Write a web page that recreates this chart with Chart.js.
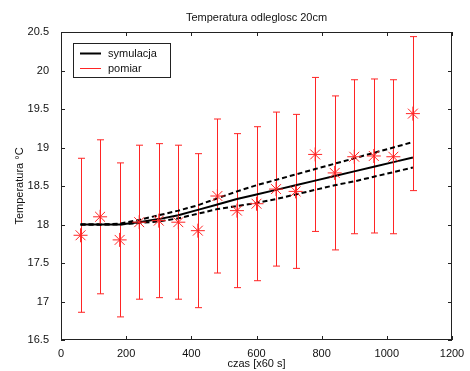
<!DOCTYPE html>
<html>
<head>
<meta charset="utf-8">
<script src="https://cdn.jsdelivr.net/npm/chart.js@4/dist/chart.umd.min.js"></script>
<style>
  html, body { margin: 0; padding: 0; background: #fff; }
  canvas { display: block; }
</style>
</head>
<body>
<canvas id="chart" width="470" height="371"></canvas>
<script>
// czas [x60 s]
const czas = [60, 120, 180, 240, 300, 360, 420, 480, 540, 600, 660, 720, 780, 840, 900, 960, 1020, 1080];
// pomiar (measurement) and its error
const pomiar = [17.86, 18.1, 17.8, 18.03, 18.05, 18.03, 17.92, 18.37, 18.18, 18.27, 18.46, 18.43, 18.91, 18.67, 18.88, 18.89, 18.88, 19.44];
const pomiarBlad = [1, 1, 1, 1, 1, 1, 1, 1, 1, 1, 1, 1, 1, 1, 1, 1, 1, 1];
// symulacja and its bounds
const symulacja = [18.0, 18.0, 18.0, 18.03, 18.07, 18.12, 18.19, 18.26, 18.33, 18.39, 18.45, 18.51, 18.57, 18.63, 18.69, 18.75, 18.81, 18.87];
const symGora = [18.0, 18.0, 18.01, 18.06, 18.12, 18.18, 18.25, 18.34, 18.43, 18.51, 18.58, 18.65, 18.72, 18.79, 18.86, 18.93, 19.0, 19.07];
const symDol = [18.0, 18.0, 18.0, 18.02, 18.04, 18.08, 18.14, 18.2, 18.24, 18.28, 18.33, 18.39, 18.45, 18.51, 18.56, 18.62, 18.68, 18.74];
const xTicks = [0, 200, 400, 600, 800, 1000, 1200];
const yTicks = [16.5, 17, 17.5, 18, 18.5, 19, 19.5, 20, 20.5];

const FONT = 'Arial, "Liberation Sans", Helvetica, sans-serif';
const RED = '#ff2424';
const pts = (ys) => czas.map((x, i) => ({ x, y: ys[i] }));

// error bars, frame, inward ticks, title, legend
const matlabLook = {
  id: 'matlabLook',
  beforeDatasetsDraw(chart) {
    const { ctx } = chart;
    const xs = chart.scales.x, ys = chart.scales.y;
    ctx.save();
    ctx.strokeStyle = RED;
    ctx.lineWidth = 1;
    czas.forEach((t, i) => {
      const px = Math.round(xs.getPixelForValue(t)) + 0.5;
      const lo = ys.getPixelForValue(pomiar[i] - pomiarBlad[i]);
      const hi = ys.getPixelForValue(pomiar[i] + pomiarBlad[i]);
      ctx.beginPath();
      ctx.moveTo(px, lo); ctx.lineTo(px, hi);
      ctx.moveTo(px - 3.5, lo); ctx.lineTo(px + 3.5, lo);
      ctx.moveTo(px - 3.5, hi); ctx.lineTo(px + 3.5, hi);
      ctx.stroke();
    });
    ctx.restore();
  },
  afterDraw(chart) {
    const { ctx, chartArea: a } = chart;
    const xs = chart.scales.x, ys = chart.scales.y;
    ctx.save();
    ctx.strokeStyle = '#222';
    ctx.lineWidth = 1;
    ctx.strokeRect(a.left + 0.5, a.top + 0.5, a.right - a.left - 1, a.bottom - a.top - 1);
    ctx.beginPath();
    xTicks.forEach((v) => {
      const px = Math.round(xs.getPixelForValue(v)) + 0.5;
      ctx.moveTo(px, a.bottom); ctx.lineTo(px, a.bottom - 4);
      ctx.moveTo(px, a.top); ctx.lineTo(px, a.top + 4);
    });
    yTicks.forEach((v) => {
      const py = Math.round(ys.getPixelForValue(v)) + 0.5;
      ctx.moveTo(a.left, py); ctx.lineTo(a.left + 4, py);
      ctx.moveTo(a.right, py); ctx.lineTo(a.right - 4, py);
    });
    ctx.stroke();

    // title
    ctx.fillStyle = '#111';
    ctx.font = '11px ' + FONT;
    ctx.textAlign = 'center';
    ctx.textBaseline = 'middle';
    ctx.fillText('Temperatura odleglosc 20cm', (a.left + a.right) / 2, 18);

    // legend
    const lx = 73.5, ly = 43.5, lw = 97, lh = 34;
    ctx.fillStyle = '#fff';
    ctx.fillRect(lx, ly, lw, lh);
    ctx.strokeStyle = '#222';
    ctx.strokeRect(lx, ly, lw, lh);
    const items = [['symulacja', '#000', 2], ['pomiar', RED, 1]];
    items.forEach(([label, color, w], i) => {
      const y = 53.5 + i * 15;
      ctx.strokeStyle = color;
      ctx.lineWidth = w;
      ctx.beginPath();
      ctx.moveTo(80, y); ctx.lineTo(101, y);
      ctx.stroke();
      ctx.fillStyle = '#111';
      ctx.textAlign = 'left';
      ctx.fillText(label, 108, y);
    });
    ctx.restore();
  },
};

new Chart(document.getElementById('chart'), {
  type: 'scatter',
  data: {
    datasets: [
      {
        label: 'pomiar',
        data: pts(pomiar),
        showLine: false,
        pointStyle: 'star',
        pointRadius: 7,
        pointBorderWidth: 1,
        borderColor: RED,
        backgroundColor: RED,
      },
      {
        label: 'symulacja',
        data: pts(symulacja),
        showLine: true,
        borderColor: '#000',
        borderWidth: 2,
        pointRadius: 0,
        tension: 0,
      },
      {
        label: 'symulacja max',
        data: pts(symGora),
        showLine: true,
        borderColor: '#000',
        borderWidth: 2,
        borderDash: [5, 3],
        pointRadius: 0,
      },
      {
        label: 'symulacja min',
        data: pts(symDol),
        showLine: true,
        borderColor: '#000',
        borderWidth: 2,
        borderDash: [5, 3],
        pointRadius: 0,
      },
    ],
  },
  options: {
    responsive: false,
    animation: false,
    devicePixelRatio: 1,
    layout: { padding: { left: 0, top: 32, right: 18, bottom: 0 } },
    plugins: { legend: { display: false }, tooltip: { enabled: false } },
    scales: {
      x: {
        type: 'linear',
        min: 0,
        max: 1200,
        afterFit: (s) => { s.height = 31; },
        afterBuildTicks: (s) => { s.ticks = xTicks.map((value) => ({ value })); },
        grid: { display: false },
        border: { display: false },
        ticks: { color: '#111', padding: -1, font: { family: FONT, size: 11 }, callback: (v) => String(v) },
        title: { display: true, text: 'czas [x60 s]', color: '#111', padding: 0, font: { family: FONT, size: 11 } },
      },
      y: {
        type: 'linear',
        min: 16.5,
        max: 20.5,
        afterFit: (s) => { s.width = 61; },
        afterBuildTicks: (s) => { s.ticks = yTicks.map((value) => ({ value })); },
        grid: { display: false },
        border: { display: false },
        ticks: { color: '#111', padding: 4, font: { family: FONT, size: 11 }, callback: (v) => String(v) },
        title: { display: true, text: 'Temperatura °C', color: '#111', padding: { top: 13, bottom: 0 }, font: { family: FONT, size: 11 } },
      },
    },
  },
  plugins: [matlabLook],
});
</script>
</body>
</html>
